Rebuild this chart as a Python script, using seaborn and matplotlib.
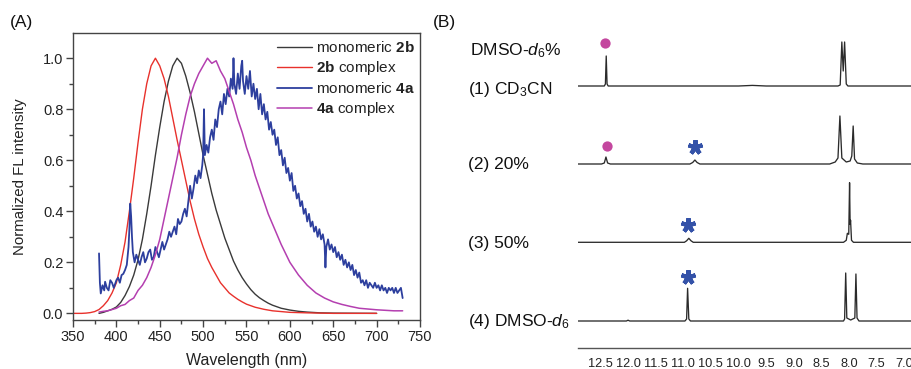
import numpy as np
import pandas as pd
import matplotlib
matplotlib.use("Agg")
import matplotlib.pyplot as plt
import seaborn as sns

# ---------------- Panel A data ----------------
wl_2b_mono = [380, 385, 390, 395, 400, 405, 410, 415, 420, 425, 430, 435, 440, 445, 450, 455, 460, 465,
              470, 475, 480, 485, 490, 495, 500, 505, 510, 515, 520, 525, 530, 535, 540, 545, 550, 555,
              560, 565, 570, 575, 580, 590, 600, 610, 620, 635, 650, 700]
fl_2b_mono = [0.0, 0.004, 0.01, 0.016, 0.025, 0.043, 0.07, 0.105, 0.15, 0.21, 0.29, 0.39, 0.50, 0.62, 0.73, 0.83, 0.91, 0.97,
              1.0, 0.98, 0.93, 0.865, 0.79, 0.705, 0.62, 0.545, 0.47, 0.405, 0.35, 0.295, 0.25, 0.205, 0.17, 0.14, 0.115, 0.093,
              0.075, 0.061, 0.05, 0.04, 0.032, 0.02, 0.013, 0.008, 0.005, 0.002, 0.001, 0.0]

wl_2b_cplx = [350, 360, 365, 370, 375, 380, 385, 390, 395, 400, 405, 410, 415, 420, 425, 430, 435, 440,
              445, 450, 455, 460, 465, 470, 475, 480, 485, 490, 495, 500, 505, 510, 515, 520, 525, 530,
              535, 540, 545, 550, 555, 560, 570, 580, 590, 600, 620, 650, 700]
fl_2b_cplx = [0.0, 0.0, 0.001, 0.003, 0.007, 0.015, 0.03, 0.05, 0.08, 0.12, 0.19, 0.28, 0.40, 0.53, 0.67, 0.80, 0.90, 0.97,
              1.0, 0.97, 0.92, 0.85, 0.765, 0.68, 0.60, 0.52, 0.44, 0.37, 0.31, 0.26, 0.215, 0.18, 0.15, 0.12, 0.10, 0.08,
              0.067, 0.055, 0.045, 0.036, 0.03, 0.024, 0.016, 0.01, 0.007, 0.004, 0.002, 0.0, 0.0]

wl_4a_mono = [380, 381, 382, 384, 386, 387, 389, 391, 393, 395, 397, 398, 400, 402, 404, 406, 408, 410,
              412, 414, 415, 416, 417, 418, 419, 421, 423, 425, 427, 429, 431, 433, 435, 437, 439, 441,
              443, 445, 447, 449, 451, 453, 455, 457, 459, 461, 463, 465, 467, 469, 471, 473, 475, 477,
              479, 481, 483, 485, 487, 489, 491, 493, 495, 497, 499, 500, 501, 502, 504, 506, 508, 510,
              512, 514, 516, 518, 520, 522, 524, 526, 528, 530, 532, 534, 535, 536, 538, 540, 542, 544,
              545, 546, 548, 550, 552, 554, 556, 558, 560, 562, 564, 566, 568, 570, 572, 574, 576, 578,
              580, 582, 584, 586, 588, 590, 592, 594, 596, 598, 600, 602, 604, 606, 608, 610, 612, 614,
              616, 618, 620, 622, 624, 626, 628, 630, 632, 634, 636, 638, 640, 641, 642, 644, 646, 648,
              650, 652, 654, 656, 658, 660, 662, 664, 666, 668, 670, 672, 674, 676, 678, 680, 682, 684,
              686, 688, 690, 692, 694, 696, 698, 700, 702, 704, 706, 708, 710, 712, 714, 716, 718, 720,
              722, 724, 726, 728, 730]
fl_4a_mono = [0.235, 0.12, 0.078, 0.11, 0.09, 0.124, 0.10, 0.09, 0.13, 0.12, 0.10, 0.11, 0.13, 0.14, 0.12, 0.15, 0.155, 0.17,
              0.19, 0.26, 0.33, 0.43, 0.38, 0.30, 0.24, 0.20, 0.23, 0.21, 0.19, 0.22, 0.24, 0.20, 0.215, 0.24, 0.25, 0.21,
              0.22, 0.26, 0.24, 0.22, 0.25, 0.28, 0.25, 0.27, 0.29, 0.32, 0.30, 0.32, 0.34, 0.31, 0.37, 0.35, 0.36, 0.39,
              0.41, 0.38, 0.44, 0.50, 0.45, 0.49, 0.54, 0.51, 0.56, 0.53, 0.58, 0.62, 0.80, 0.62, 0.66, 0.63, 0.69, 0.72,
              0.68, 0.76, 0.73, 0.80, 0.83, 0.78, 0.86, 0.82, 0.88, 0.85, 0.92, 0.88, 1.0, 0.90, 0.86, 0.94, 0.88, 0.97,
              0.99, 0.91, 0.86, 0.93, 0.88, 0.95, 0.85, 0.90, 0.84, 0.88, 0.80, 0.86, 0.78, 0.82, 0.76, 0.79, 0.72, 0.75,
              0.70, 0.72, 0.66, 0.69, 0.62, 0.64, 0.58, 0.61, 0.55, 0.57, 0.52, 0.55, 0.48, 0.50, 0.45, 0.47, 0.42, 0.44,
              0.39, 0.41, 0.36, 0.39, 0.34, 0.36, 0.32, 0.34, 0.30, 0.33, 0.29, 0.31, 0.27, 0.18, 0.26, 0.29, 0.25, 0.27,
              0.24, 0.26, 0.22, 0.24, 0.21, 0.23, 0.19, 0.21, 0.18, 0.20, 0.17, 0.19, 0.15, 0.17, 0.14, 0.16, 0.12, 0.13,
              0.11, 0.13, 0.10, 0.12, 0.11, 0.10, 0.12, 0.10, 0.11, 0.09, 0.11, 0.09, 0.10, 0.08, 0.10, 0.09, 0.10, 0.08,
              0.10, 0.08, 0.09, 0.10, 0.06]

wl_4a_cplx = [380, 385, 390, 395, 400, 405, 410, 415, 420, 425, 430, 435, 440, 445, 450, 455, 460, 465, 470,
              475, 480, 485, 490, 495, 500, 505, 510, 515, 520, 525, 530, 535, 540, 545, 550, 555, 560, 565,
              570, 575, 580, 585, 590, 595, 600, 605, 610, 615, 620, 625, 630, 640, 650, 660, 670, 680, 690,
              700, 710, 720, 730]
fl_4a_cplx = [0.005, 0.008, 0.01, 0.015, 0.02, 0.03, 0.035, 0.05, 0.06, 0.09, 0.11, 0.14, 0.18, 0.23, 0.29, 0.37, 0.45, 0.53, 0.61,
              0.70, 0.78, 0.85, 0.90, 0.94, 0.97, 1.0, 0.98, 0.99, 0.95, 0.92, 0.87, 0.82, 0.76, 0.71, 0.65, 0.60, 0.54, 0.49,
              0.44, 0.39, 0.35, 0.31, 0.27, 0.235, 0.20, 0.175, 0.15, 0.13, 0.11, 0.095, 0.08, 0.06, 0.045, 0.035, 0.027, 0.02, 0.017,
              0.014, 0.012, 0.01, 0.01]

fl_labels = ["monomeric $\\mathbf{2b}$", "$\\mathbf{2b}$ complex",
             "monomeric $\\mathbf{4a}$", "$\\mathbf{4a}$ complex"]
fl_colors = ["#3a3a3a", "#e8312c", "#2d3f9e", "#b43fb0"]

# ---------------- Panel B data ----------------
ppm_1 = [12.906, 12.43, 12.41, 12.395, 12.38, 12.36, 10.0, 9.75, 9.5, 8.20, 8.16, 8.13, 8.105, 8.08, 8.05, 8.02, 6.86]
int_1 = [0, 0, 2, 30, 2, 0, 0, 0.6, 0, 0, 1, 44, 15, 44, 2, 0, 0]

ppm_2 = [12.906, 12.48, 12.43, 12.40, 12.37, 12.32, 10.88, 10.83, 10.79, 10.75, 10.70,
         8.35, 8.25, 8.20, 8.165, 8.13, 8.05, 7.98, 7.95, 7.925, 7.90, 7.85, 7.75, 6.86]
int_2 = [0, 0, 1, 7, 1, 0, 0, 1.5, 4, 1.5, 0,
         0, 2, 6, 48, 6, 2, 3, 8, 38, 5, 1, 0, 0]

ppm_3 = [12.906, 10.98, 10.94, 10.90, 10.86, 10.82, 8.10, 8.05, 8.03, 8.005, 7.99, 7.98, 7.972, 7.955, 7.92, 6.86]
int_3 = [0, 0, 1.5, 4, 1.5, 0, 0, 2, 9, 8, 59.6, 18, 22, 2, 0, 0]

ppm_4 = [12.906, 12.03, 12.0, 11.97, 10.97, 10.94, 10.922, 10.90, 10.87,
         8.10, 8.08, 8.06, 8.04, 7.97, 7.895, 7.875, 7.855, 7.82, 6.86]
int_4 = [0, 0, 0.8, 0, 0, 2, 32.7, 2, 0,
         0, 2, 48, 3, 1, 3, 47, 3, 0, 0]

nmr_labels = ["(1) CD$_3$CN", "(2) 20%", "(3) 50%", "(4) DMSO-$\\mathit{d}_6$"]
nmr_ticks = [12.5, 12.0, 11.5, 11.0, 10.5, 10.0, 9.5, 9.0, 8.5, 8.0, 7.5, 7.0]

dot_ppm = [12.41, 12.39]
star_ppm = [10.79, 10.91, 10.91]

# ---------------- styling ----------------
sns.set_style("white")
plt.rcParams['font.family'] = ['Liberation Sans', 'DejaVu Sans']
plt.rcParams['mathtext.fontset'] = 'custom'
plt.rcParams['mathtext.rm'] = 'Liberation Sans'
plt.rcParams['mathtext.bf'] = 'Liberation Sans:bold'
plt.rcParams['mathtext.it'] = 'Liberation Sans:italic'

W, H = 912, 369
fig = plt.figure(figsize=(W / 100, H / 100), dpi=100)

def fx(px):
    return px / W

def fy(py):
    return 1 - py / H

# ---------------- Panel A ----------------
axA = fig.add_axes([fx(73), fy(320), fx(420) - fx(73), fy(32.7) - fy(320)])
series = [(wl_2b_mono, fl_2b_mono), (wl_2b_cplx, fl_2b_cplx), (wl_4a_mono, fl_4a_mono), (wl_4a_cplx, fl_4a_cplx)]
lws = [1.0, 1.0, 1.3, 1.1]
for (x, y), lab, col, lw in zip(series, fl_labels, fl_colors, lws):
    df = pd.DataFrame({"wl": x, "fl": y})
    sns.lineplot(data=df, x="wl", y="fl", ax=axA, color=col, lw=lw, label=lab,
                 estimator=None, sort=False)

axA.set_xlim(350, 750)
axA.set_ylim(-0.026, 1.10)
axA.set_xticks(np.arange(350, 751, 50))
axA.set_xticks(np.arange(375, 750, 50), minor=True)
axA.set_yticks([0.0, 0.2, 0.4, 0.6, 0.8, 1.0])
axA.set_yticks([0.1, 0.3, 0.5, 0.7, 0.9], minor=True)
axA.set_yticklabels(["0.0", "0.2", "0.4", "0.6", "0.8", "1.0"])
axA.tick_params(axis='both', which='major', direction='out', length=5, width=1, color='#444',
                labelsize=10.5, labelcolor='#222', pad=2)
axA.tick_params(axis='both', which='minor', direction='out', length=3, width=1, color='#444')
axA.tick_params(axis='x', which='both', bottom=True, top=False)
axA.tick_params(axis='y', which='both', left=True, right=False)
for s in axA.spines.values():
    s.set_color('#444')
    s.set_linewidth(1.0)
axA.set_xlabel("Wavelength (nm)", fontsize=11.5, color='#222', labelpad=7)
axA.set_ylabel("Normalized FL intensity", fontsize=10.8, color='#222', labelpad=11)
leg = axA.legend(loc='upper right', bbox_to_anchor=(0.995, 0.985), frameon=False, fontsize=11,
                 handlelength=2.3, handletextpad=0.25, labelspacing=0.26, borderpad=0.2,
                 borderaxespad=0.0)
for t in leg.get_texts():
    t.set_color('#222')

fig.text(fx(10), fy(23), "(A)", fontsize=12.5, va='center', ha='left', color='#111')
fig.text(fx(433), fy(23), "(B)", fontsize=12.5, va='center', ha='left', color='#111')

# ---------------- Panel B ----------------
ax_bot, ax_top = 348.3, 20.0
axB = fig.add_axes([fx(578), fy(ax_bot), 1 - fx(578), fy(ax_top) - fy(ax_bot)])
baselines = [86.0, 164.0, 242.3, 321.0]
traces = [(ppm_1, int_1), (ppm_2, int_2), (ppm_3, int_3), (ppm_4, int_4)]
for (p, i), b in zip(traces, baselines):
    off = ax_bot - b
    df = pd.DataFrame({"ppm": p, "y": np.array(i, dtype=float) + off})
    sns.lineplot(data=df, x="ppm", y="y", ax=axB, color='#2b2b2b', lw=0.95,
                 estimator=None, sort=False)

axB.set_xlim(12.906, 6.86)
axB.set_ylim(0, ax_bot - ax_top)
axB.set_xticks(nmr_ticks)
axB.set_xticklabels([f"{t:.1f}" for t in nmr_ticks])
axB.set_yticks([])
axB.set_xlabel("")
axB.set_ylabel("")
for k in ['left', 'top', 'right']:
    axB.spines[k].set_visible(False)
axB.spines['bottom'].set_color('#555')
axB.spines['bottom'].set_linewidth(1.0)
axB.tick_params(axis='x', direction='out', length=4, width=1, color='#555',
                labelsize=9.2, labelcolor='#222', pad=3)
axB.patch.set_alpha(0)

# markers
dot_rows = [43.3, 145.7]
for p, r in zip(dot_ppm, dot_rows):
    axB.plot([p], [ax_bot - r], marker='o', ms=7.4, color='#c4479f', mec='none', ls='none',
             clip_on=False)
star_rows = [146.7, 225.0, 277.3]
for p, r in zip(star_ppm, star_rows):
    axB.plot([p], [ax_bot - r], marker=(5, 2, 0), ms=10.5, mew=3.0, color='#3452a8', ls='none',
             clip_on=False)

# row labels
fig.text(fx(470), fy(55), "DMSO-$\\mathit{d}_6$%", fontsize=12.5, va='baseline', ha='left', color='#111')
label_baselines = [94, 169, 248, 326]
for lab, yb in zip(nmr_labels, label_baselines):
    fig.text(fx(468), fy(yb), lab, fontsize=12.5, va='baseline', ha='left', color='#111')

fig.savefig("out.png", dpi=100)
